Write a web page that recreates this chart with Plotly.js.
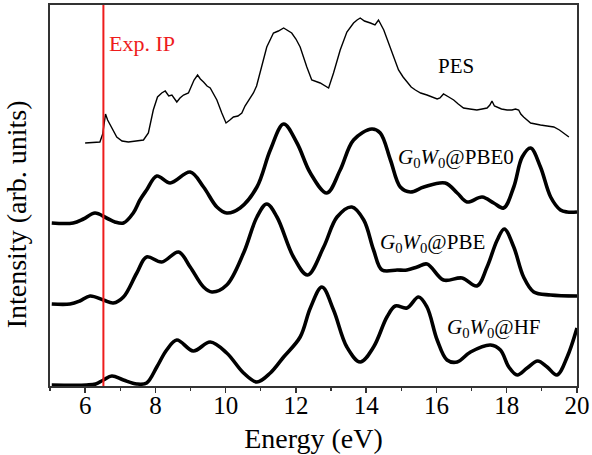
<!DOCTYPE html>
<html>
<head>
<meta charset="utf-8">
<script src="https://cdn.plot.ly/plotly-3.0.1.min.js"></script>
<style>html,body{margin:0;padding:0;background:#fff;}#chart{width:592px;height:455px;}</style>
</head>
<body>
<div id="chart"></div>
<script>
// Energy (eV) and intensity (arb. units, offset per curve)
const pesE = [6.00,6.42,6.50,6.58,6.64,6.71,6.80,6.90,7.05,7.23,7.45,7.66,7.80,7.94,8.06,8.18,8.28,8.38,8.47,8.61,8.70,8.80,8.94,9.02,9.10,9.20,9.28,9.37,9.47,9.56,9.75,9.89,10.01,10.12,10.22,10.35,10.46,10.55,10.65,10.79,10.88,10.98,11.08,11.17,11.36,11.50,11.65,11.75,11.88,12.00,12.12,12.31,12.45,12.69,12.93,13.07,13.26,13.45,13.64,13.74,13.83,13.95,14.05,14.12,14.25,14.35,14.50,14.64,14.78,14.92,15.05,15.16,15.28,15.40,15.55,15.73,15.88,16.02,16.10,16.20,16.35,16.49,16.62,16.77,16.95,17.15,17.30,17.44,17.52,17.58,17.65,17.72,17.85,18.01,18.15,18.25,18.34,18.40,18.48,18.68,18.80,18.96,19.15,19.34,19.50,19.62,19.77];
const pesI = [243,244,252,272,266,261,255,249,245,244,245,246,253,276,289,293,295,290,291,284,288,291,293,300,306,311,307,304,300,298,286,273,263,266,269,270,273,280,286,293,300,313,327,339,353,355,358,356,353,347,339,319,306,303,298,313,336,354,363,366,368,365,364,363,361,366,356,343,329,316,309,304,299,296,293,291,289,287,288,292,289,286,282,278,277,276,277,278,281,285,280,279,277,276,276,277,276,272,269,263,262,261,260,259,256,253,249];

const pbe0E = [5.05,5.66,5.95,6.28,6.61,6.85,7.09,7.37,7.56,7.75,8.04,8.42,8.99,9.37,9.75,10.03,10.41,10.89,11.27,11.65,12.03,12.41,12.88,13.26,13.64,14.16,14.40,14.69,14.97,15.26,15.64,16.25,16.59,16.87,17.30,17.63,17.91,18.20,18.44,18.68,18.96,19.25,19.53,19.72,20.00];
const pbe0I = [163,163,167,173,168,164,163,173,186,196,210,203,214,199,179,173,178,199,236,262,243,213,193,216,246,257,253,226,199,194,199,203,193,184,189,183,178,199,229,238,219,189,176,174,174];

const pbeE = [5.05,5.57,5.85,6.14,6.52,6.80,7.09,7.47,7.75,8.18,8.66,8.99,9.37,9.61,10.03,10.51,10.89,11.17,11.46,11.93,12.33,12.79,13.17,13.59,13.93,14.21,14.45,14.88,15.16,15.45,15.73,16.20,16.73,17.15,17.44,17.73,17.93,18.20,18.48,18.77,19.25,20.00];
const pbeI = [82,82,85,90,86,83,89,113,129,124,134,119,99,94,101,133,169,182,169,129,111,139,169,179,166,136,116,116,116,119,122,106,108,100,119,146,157,139,109,94,91,90];

const hfE = [5.05,6.04,6.30,6.52,6.76,7.09,7.47,7.75,8.04,8.32,8.61,9.08,9.56,10.03,10.51,10.89,11.27,11.65,12.12,12.41,12.74,13.07,13.45,13.83,14.21,14.59,14.83,15.16,15.49,15.73,16.02,16.30,16.59,16.97,17.54,17.82,18.06,18.30,18.58,18.88,19.15,19.43,19.72,20.00];
const hfI = [1,1,2,6,10,6,2,3,19,36,46,35,44,33,13,4,13,29,49,78,99,76,39,24,39,69,80,78,89,79,46,26,24,34,41,36,19,11,18,25,19,11,29,58];

const expIP = 6.52;
const xTicks = [6,8,10,12,14,16,18,20];

const thick = {color:'#000', width:3.6, shape:'spline', smoothing:1};
const data = [
  {x:pesE, y:pesI, mode:'lines', line:{color:'#000', width:1.4}, hoverinfo:'skip'},
  {x:pbe0E, y:pbe0I, mode:'lines', line:thick, hoverinfo:'skip'},
  {x:pbeE, y:pbeI, mode:'lines', line:thick, hoverinfo:'skip'},
  {x:hfE, y:hfI, mode:'lines', line:thick, hoverinfo:'skip'}
];

const serif = '"Liberation Serif", "Times New Roman", Times, serif';
const layout = {
  width:592, height:455,
  margin:{l:50, r:15, t:5, b:69},
  paper_bgcolor:'#fff', plot_bgcolor:'#fff',
  showlegend:false,
  font:{family:serif, color:'#000'},
  xaxis:{
    range:[5,20], tickvals:xTicks, ticktext:xTicks.map(String),
    ticks:'outside', ticklen:5, tickwidth:1.5, tickcolor:'#333',
    ticklabelstandoff:-9,
    minor:{dtick:1, tick0:5, ticks:'outside', ticklen:3, tickwidth:1.2, tickcolor:'#333', showgrid:false},
    showline:true, linecolor:'#333', linewidth:2, mirror:true,
    showgrid:false, zeroline:false,
    tickfont:{family:serif, size:25, color:'#000'},
    title:{text:'Energy (eV)', font:{family:serif, size:28, color:'#000'}, standoff:10}
  },
  yaxis:{
    range:[0,381], showticklabels:false, ticks:'',
    showline:true, linecolor:'#333', linewidth:2, mirror:true,
    showgrid:false, zeroline:false
  },
  shapes:[
    {type:'line', xref:'x', yref:'paper', x0:expIP, x1:expIP, y0:0, y1:1, line:{color:'#ee1c1c', width:2}}
  ],
  annotations:[
    {text:'Intensity (arb. units)', xref:'paper', yref:'paper', x:-0.063, y:0.45, textangle:-90, xanchor:'center', yanchor:'middle', showarrow:false, font:{family:serif, size:28, color:'#000'}},
    {text:'Exp. IP', xref:'x', yref:'y', x:6.62, y:343, xanchor:'left', yanchor:'middle', showarrow:false, font:{family:serif, size:22, color:'#ee1c1c'}},
    {text:'PES', xref:'x', yref:'y', x:16.55, y:320, xanchor:'center', yanchor:'middle', showarrow:false, font:{family:serif, size:21, color:'#000'}},
    {text:'<i>G</i><sub>0</sub><i>W</i><sub>0</sub>@PBE0', xref:'x', yref:'y', x:16.55, y:228, xanchor:'center', yanchor:'middle', showarrow:false, font:{family:serif, size:21, color:'#000'}},
    {text:'<i>G</i><sub>0</sub><i>W</i><sub>0</sub>@PBE', xref:'x', yref:'y', x:15.88, y:143, xanchor:'center', yanchor:'middle', showarrow:false, font:{family:serif, size:21, color:'#000'}},
    {text:'<i>G</i><sub>0</sub><i>W</i><sub>0</sub>@HF', xref:'x', yref:'y', x:17.65, y:58, xanchor:'center', yanchor:'middle', showarrow:false, font:{family:serif, size:21, color:'#000'}}
  ]
};
Plotly.newPlot('chart', data, layout, {staticPlot:true, displayModeBar:false});
</script>
</body>
</html>
